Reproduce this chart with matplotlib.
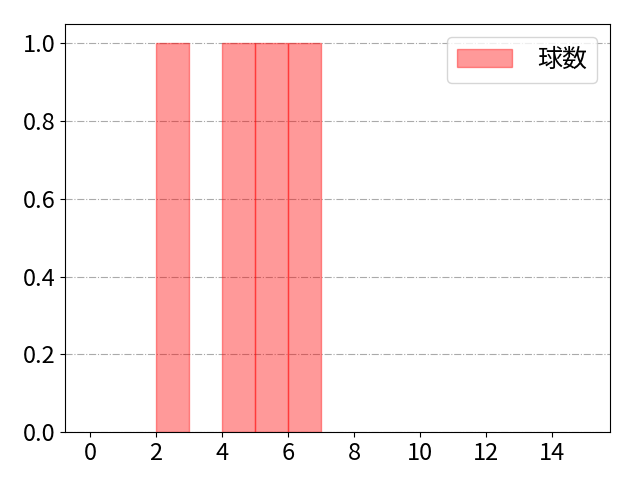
import matplotlib
matplotlib.use("Agg")
import matplotlib.pyplot as plt

plt.rcParams["font.family"] = ["Noto Sans CJK JP", "DejaVu Sans"]
plt.rcParams["font.size"] = 17

bin_left = [2, 4, 5, 6]
counts = [1, 1, 1, 1]
label = "球数"

fig, ax = plt.subplots(figsize=(6.4, 4.8), dpi=100)
fig.subplots_adjust(left=0.102, right=0.953, top=0.95, bottom=0.1)
ax.bar(bin_left, counts, width=1.0, align="edge", color="red", alpha=0.4,
       edgecolor="red", linewidth=1.0, label=label)
ax.set_xlim(-0.75, 15.75)
ax.set_ylim(0, 1.05)
ax.set_xticks(range(0, 15, 2))
ax.set_yticks([0.0, 0.2, 0.4, 0.6, 0.8, 1.0])
ax.yaxis.grid(True, linestyle="-.", color="#aaaaaa", linewidth=0.8)
ax.set_axisbelow(True)
ax.legend(loc="upper right", fontsize=18, handlelength=2.2, handletextpad=1.0)
plt.savefig("out.png", dpi=100)
